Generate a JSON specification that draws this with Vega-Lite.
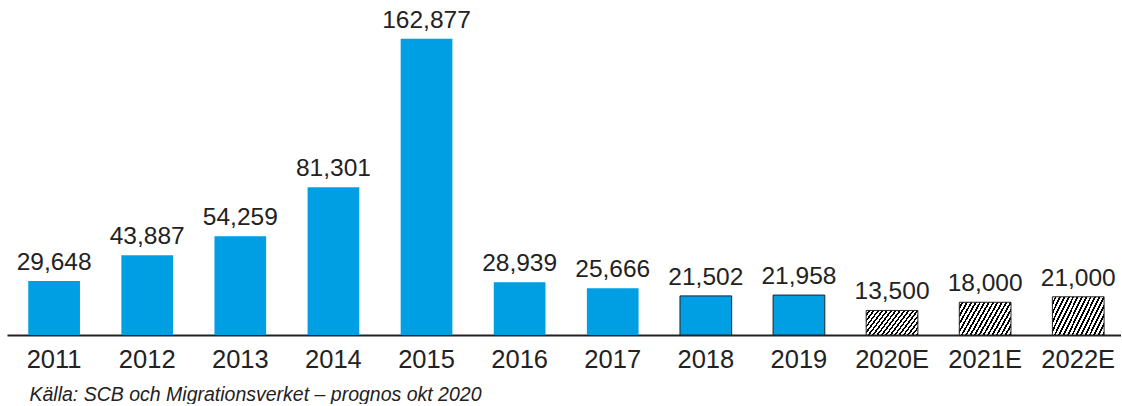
{
  "$schema": "https://vega.github.io/schema/vega-lite/v6.json",
  "width": 1114,
  "height": 335,
  "padding": {"left": 7, "top": 0, "right": 0, "bottom": 0},
  "background": "white",
  "config": {"view": {"stroke": null}, "font": "Liberation Sans"},
  "data": {"values": [
    {"year": "2011", "value": 29648, "est": false},
    {"year": "2012", "value": 43887, "est": false},
    {"year": "2013", "value": 54259, "est": false},
    {"year": "2014", "value": 81301, "est": false},
    {"year": "2015", "value": 162877, "est": false},
    {"year": "2016", "value": 28939, "est": false},
    {"year": "2017", "value": 25666, "est": false},
    {"year": "2018", "value": 21502, "est": false},
    {"year": "2019", "value": 21958, "est": false},
    {"year": "2020E", "value": 13500, "est": true},
    {"year": "2021E", "value": 18000, "est": true},
    {"year": "2022E", "value": 21000, "est": true}
  ]},
  "encoding": {
    "x": {"field": "year", "type": "nominal", "sort": null,
      "scale": {"paddingInner": 0.4447, "paddingOuter": 0.205, "align": 0.557},
      "axis": {"labelAngle": 0, "labelFontSize": 25.5, "labelColor": "#222", "labelPadding": 12, "ticks": false, "domainColor": "#222", "domainWidth": 2,
        "title": "Källa: SCB och Migrationsverket – prognos okt 2020", "titleFontSize": 19.5, "titleFontStyle": "italic", "titleFontWeight": "normal", "titleColor": "#222",
        "titleAnchor": "start", "titleAlign": "left", "titleBaseline": "alphabetic", "titleX": 22, "titleY": 65}},
    "y": {"field": "value", "type": "quantitative", "scale": {"domain": [0, 184200], "nice": false}, "axis": null}
  },
  "layer": [
    {
      "mark": {"type": "bar"},
      "encoding": {
        "fill": {
          "condition": {"test": "datum.est",
            "value": {"gradient": "linear", "x1": 0, "y1": 0, "x2": 1.2, "y2": 0.43, "stops": [
              {"offset": 0, "color": "white"}, {"offset": 0.035, "color": "white"}, {"offset": 0.035, "color": "black"}, {"offset": 0.0625, "color": "black"},
              {"offset": 0.0625, "color": "white"}, {"offset": 0.0975, "color": "white"}, {"offset": 0.0975, "color": "black"}, {"offset": 0.125, "color": "black"},
              {"offset": 0.125, "color": "white"}, {"offset": 0.16, "color": "white"}, {"offset": 0.16, "color": "black"}, {"offset": 0.1875, "color": "black"},
              {"offset": 0.1875, "color": "white"}, {"offset": 0.2225, "color": "white"}, {"offset": 0.2225, "color": "black"}, {"offset": 0.25, "color": "black"},
              {"offset": 0.25, "color": "white"}, {"offset": 0.285, "color": "white"}, {"offset": 0.285, "color": "black"}, {"offset": 0.3125, "color": "black"},
              {"offset": 0.3125, "color": "white"}, {"offset": 0.3475, "color": "white"}, {"offset": 0.3475, "color": "black"}, {"offset": 0.375, "color": "black"},
              {"offset": 0.375, "color": "white"}, {"offset": 0.41, "color": "white"}, {"offset": 0.41, "color": "black"}, {"offset": 0.4375, "color": "black"},
              {"offset": 0.4375, "color": "white"}, {"offset": 0.4725, "color": "white"}, {"offset": 0.4725, "color": "black"}, {"offset": 0.5, "color": "black"},
              {"offset": 0.5, "color": "white"}, {"offset": 0.535, "color": "white"}, {"offset": 0.535, "color": "black"}, {"offset": 0.5625, "color": "black"},
              {"offset": 0.5625, "color": "white"}, {"offset": 0.5975, "color": "white"}, {"offset": 0.5975, "color": "black"}, {"offset": 0.625, "color": "black"},
              {"offset": 0.625, "color": "white"}, {"offset": 0.66, "color": "white"}, {"offset": 0.66, "color": "black"}, {"offset": 0.6875, "color": "black"},
              {"offset": 0.6875, "color": "white"}, {"offset": 0.7225, "color": "white"}, {"offset": 0.7225, "color": "black"}, {"offset": 0.75, "color": "black"},
              {"offset": 0.75, "color": "white"}, {"offset": 0.785, "color": "white"}, {"offset": 0.785, "color": "black"}, {"offset": 0.8125, "color": "black"},
              {"offset": 0.8125, "color": "white"}, {"offset": 0.8475, "color": "white"}, {"offset": 0.8475, "color": "black"}, {"offset": 0.875, "color": "black"},
              {"offset": 0.875, "color": "white"}, {"offset": 0.91, "color": "white"}, {"offset": 0.91, "color": "black"}, {"offset": 0.9375, "color": "black"},
              {"offset": 0.9375, "color": "white"}, {"offset": 0.9725, "color": "white"}, {"offset": 0.9725, "color": "black"}, {"offset": 1, "color": "black"}
            ]}},
          "value": "#009fe3"
        },
        "stroke": {
          "condition": {"test": "datum.est || datum.year == '2018' || datum.year == '2019'", "value": "#222"},
          "value": null
        },
        "strokeWidth": {"value": 1}
      }
    },
    {
      "mark": {"type": "text", "baseline": "alphabetic", "dy": -11, "fontSize": 24.5, "color": "#222"},
      "encoding": {"text": {"field": "value", "type": "quantitative", "format": ",d"}}
    }
  ]
}
